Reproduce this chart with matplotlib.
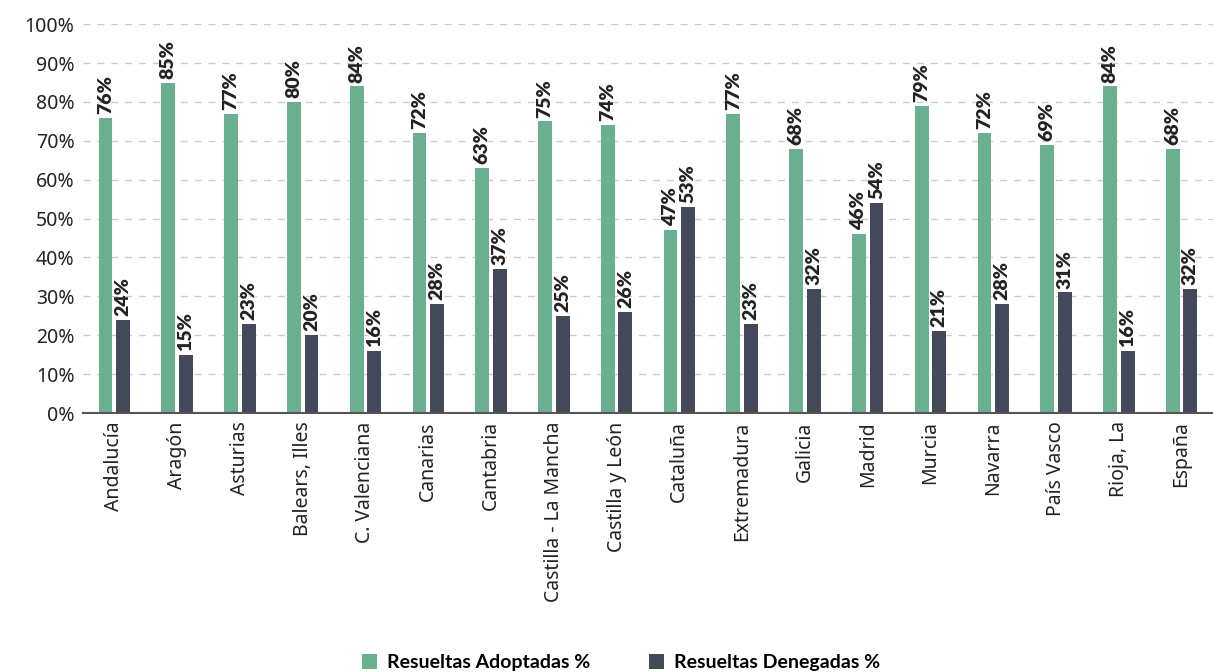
import numpy as np
import matplotlib.pyplot as plt

regiones = ["Andalucía", "Aragón", "Asturias", "Balears, Illes", "C. Valenciana",
            "Canarias", "Cantabria", "Castilla - La Mancha", "Castilla y León",
            "Cataluña", "Extremadura", "Galicia", "Madrid", "Murcia", "Navarra",
            "País Vasco", "Rioja, La", "España"]
adoptadas = [76, 85, 77, 80, 84, 72, 63, 75, 74, 47, 77, 68, 46, 79, 72, 69, 84, 68]
denegadas = [24, 15, 23, 20, 16, 28, 37, 25, 26, 53, 23, 32, 54, 21, 28, 31, 16, 32]

verde = "#6aaf90"
oscuro = "#444959"

plt.rcParams['font.family'] = ['Noto Sans', 'DejaVu Sans']
negrita = ['Lato', 'DejaVu Sans']

fig = plt.figure(figsize=(12.13, 6.72), dpi=100)
ax = fig.add_axes([0.0684, 0.3854, 0.9316, 0.5786])

x = np.arange(len(regiones))
w = 0.22
off = 0.14
b1 = ax.bar(x - off, adoptadas, w, color=verde, label="Resueltas Adoptadas %", zorder=3)
b2 = ax.bar(x + off, denegadas, w, color=oscuro, label="Resueltas Denegadas %", zorder=3)

# etiquetas de valor encima de cada barra
for bars, vals in [(b1, adoptadas), (b2, denegadas)]:
    for r, v in zip(bars, vals):
        ax.text(r.get_x() + r.get_width() / 2, v + 1, f"{v}%", rotation=90,
                ha="center", va="bottom", fontsize=14, fontweight="heavy",
                family=negrita, color="#222222")

ax.set_xlim(-0.5, len(regiones) - 0.5)
ax.set_ylim(0, 100)
ax.set_yticks(range(0, 101, 10))
ax.set_yticklabels([f"{t}%" for t in range(0, 101, 10)], fontsize=14, color="#222222")
ax.set_xticks(x)
ax.set_xticklabels(regiones, rotation=90, fontsize=14, color="#222222")
ax.tick_params(axis="both", length=0, pad=6)
ax.yaxis.grid(True, linestyle=(0, (5, 5)), color="#cccccc", linewidth=1, zorder=0)
for s in ["top", "right", "left"]:
    ax.spines[s].set_visible(False)
ax.spines["bottom"].set_color("#555555")
ax.spines["bottom"].set_linewidth(1.5)
ax.spines["bottom"].set_zorder(4)

fig.legend(loc="lower center", bbox_to_anchor=(0.512, -0.025), ncol=2, frameon=False,
           prop={"family": negrita, "weight": "bold", "size": 14}, handlelength=0.8,
           handleheight=0.8, columnspacing=3, handletextpad=0.5)

fig.savefig("out.png", dpi=100)
